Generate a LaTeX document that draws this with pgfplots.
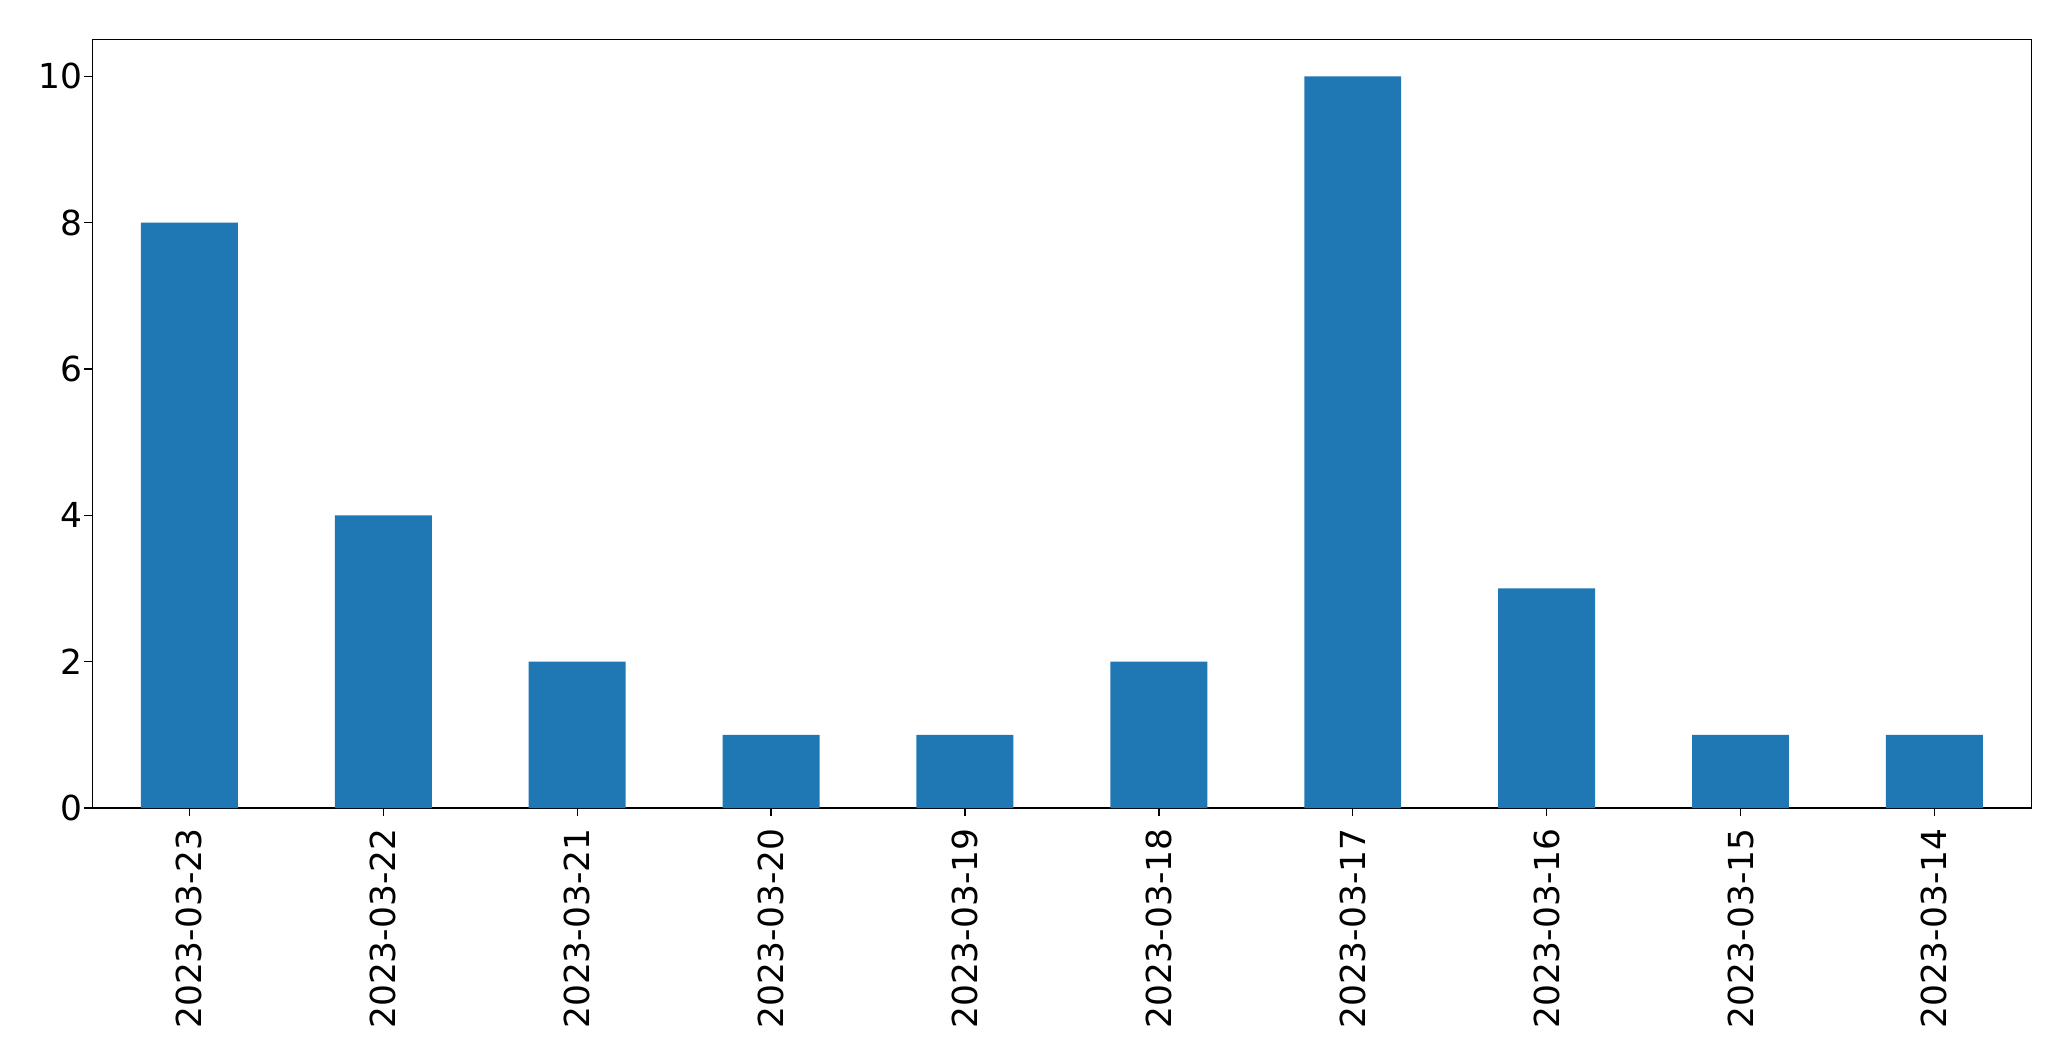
\documentclass[border=0pt]{standalone}
\usepackage{pgfplots}
\pgfplotsset{compat=1.18}
\usepackage{fontspec}
\setmainfont{DejaVu Sans}
\definecolor{barBlue}{RGB}{31,119,180}

\begin{document}
\begin{tikzpicture}
% page size with the white margins of the reference
\path[use as bounding box] (-33.3pt,-91.1pt) rectangle (712.3pt,290.9pt);
\begin{axis}[
    scale only axis,
    width=698pt, height=276.6pt,
    xmin=-0.5, xmax=9.5,
    ymin=0, ymax=10.5,
    xtick={0,...,9},
    xticklabels={2023-03-23,2023-03-22,2023-03-21,2023-03-20,2023-03-19,2023-03-18,2023-03-17,2023-03-16,2023-03-15,2023-03-14},
    ytick={0,2,4,6,8,10},
    x tick label style={rotate=90, anchor=east, inner sep=4.2pt},
    y tick label style={inner xsep=0.6pt},
    tick label style={font=\fontsize{12.4pt}{15pt}\selectfont},
    /pgf/number format/assume math mode=true,
    tick align=outside,
    tick pos=left,
    major tick length=3pt,
    axis line style={line width=0.5pt},
    every tick/.style={black, line width=0.5pt},
]
\addplot[ybar, bar width=0.5, fill=barBlue, draw=none] coordinates {
    (0,8) (1,4) (2,2) (3,1) (4,1) (5,2) (6,10) (7,3) (8,1) (9,1)
};
\end{axis}
\end{tikzpicture}
\end{document}
